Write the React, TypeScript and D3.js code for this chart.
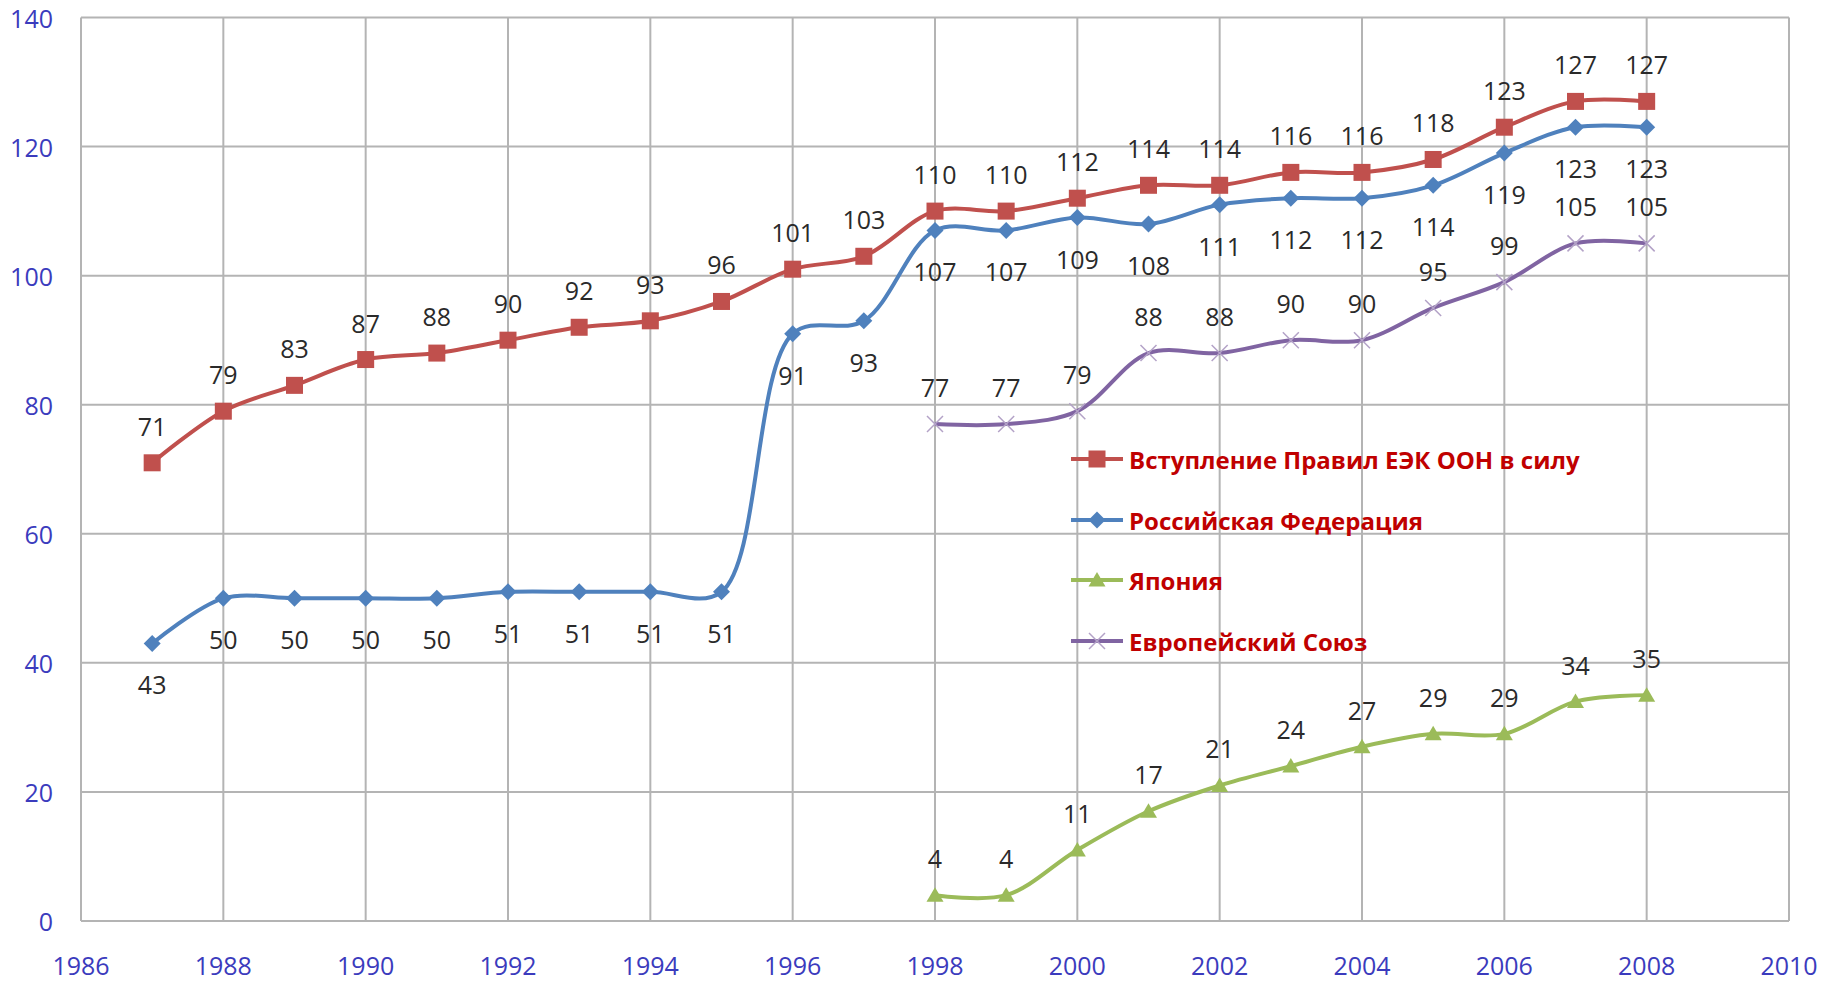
import { useRef, useEffect } from 'react'
import * as d3 from 'd3'

const years = [1987, 1988, 1989, 1990, 1991, 1992, 1993, 1994, 1995, 1996, 1997, 1998, 1999, 2000, 2001, 2002, 2003, 2004, 2005, 2006, 2007, 2008]
const unece = [71, 79, 83, 87, 88, 90, 92, 93, 96, 101, 103, 110, 110, 112, 114, 114, 116, 116, 118, 123, 127, 127]
const russia = [43, 50, 50, 50, 50, 51, 51, 51, 51, 91, 93, 107, 107, 109, 108, 111, 112, 112, 114, 119, 123, 123]
const japanYears = [1998, 1999, 2000, 2001, 2002, 2003, 2004, 2005, 2006, 2007, 2008]
const japan = [4, 4, 11, 17, 21, 24, 27, 29, 29, 34, 35]
const eu = [77, 77, 79, 88, 88, 90, 90, 95, 99, 105, 105]

const xTicks = [1986, 1988, 1990, 1992, 1994, 1996, 1998, 2000, 2002, 2004, 2006, 2008, 2010]
const yTicks = [0, 20, 40, 60, 80, 100, 120, 140]

const legendNames = ['Вступление Правил ЕЭК ООН в силу', 'Российская Федерация', 'Япония', 'Европейский Союз']

type Pt = { x: number; y: number }

export default function App() {
  const svgRef = useRef<SVGSVGElement>(null)

  useEffect(() => {
    document.body.style.margin = '0'
    if (!svgRef.current) return
    const svg = d3.select(svgRef.current)
    svg.selectAll('*').remove()

    const width = 1831
    const height = 983
    const left = 81
    const right = 1789
    const top = 17.5
    const bottom = 921
    const font = "'Open Sans', 'Liberation Sans', sans-serif"

    svg.attr('width', width).attr('height', height)
    svg.append('rect').attr('width', width).attr('height', height).attr('fill', '#fff')

    const x = d3.scaleLinear().domain([1986, 2010]).range([left, right])
    const y = d3.scaleLinear().domain([0, 140]).range([bottom, top])

    // grid
    const grid = svg.append('g')
    grid.selectAll('.gx').data(xTicks).join('line')
      .attr('x1', d => x(d)).attr('x2', d => x(d))
      .attr('y1', top).attr('y2', bottom)
      .attr('stroke', '#b4b4b4').attr('stroke-width', 2)
    grid.selectAll('.gy').data(yTicks).join('line')
      .attr('x1', left).attr('x2', right)
      .attr('y1', d => y(d)).attr('y2', d => y(d))
      .attr('stroke', '#b4b4b4').attr('stroke-width', 2)

    // axis labels
    svg.append('g').selectAll('text').data(yTicks).join('text')
      .attr('x', 53).attr('y', d => y(d))
      .attr('text-anchor', 'end').attr('dominant-baseline', 'central')
      .attr('fill', '#3b3bbd').attr('font-size', 25).attr('font-family', font)
      .text(d => d)
    svg.append('g').selectAll('text').data(xTicks).join('text')
      .attr('x', d => x(d)).attr('y', 975)
      .attr('text-anchor', 'middle')
      .attr('fill', '#3b3bbd').attr('font-size', 25).attr('font-family', font)
      .text(d => d)

    const line = d3.line<Pt>().x(d => d.x).y(d => d.y).curve(d3.curveCatmullRom.alpha(0.5))

    const series = [
      { xs: years, vs: unece, color: '#c0504d', marker: 'square', labelDy: -37 },
      { xs: years, vs: russia, color: '#4f81bd', marker: 'diamond', labelDy: 41 },
      { xs: japanYears, vs: japan, color: '#9bbb59', marker: 'triangle', labelDy: -37 },
      { xs: japanYears, vs: eu, color: '#8064a2', marker: 'x', labelDy: -37 },
    ]

    const drawMarker = (g: d3.Selection<SVGGElement, unknown, null, undefined>, kind: string, cx: number, cy: number, color: string) => {
      if (kind === 'square') {
        g.append('rect').attr('x', cx - 8.5).attr('y', cy - 8.5).attr('width', 17).attr('height', 17).attr('fill', color)
      } else if (kind === 'diamond') {
        g.append('path').attr('d', `M${cx},${cy - 8.5}L${cx + 8.5},${cy}L${cx},${cy + 8.5}L${cx - 8.5},${cy}Z`).attr('fill', color)
      } else if (kind === 'triangle') {
        g.append('path').attr('d', `M${cx},${cy - 8}L${cx + 8.5},${cy + 6.5}L${cx - 8.5},${cy + 6.5}Z`).attr('fill', color)
      } else {
        g.append('path').attr('d', `M${cx - 8},${cy - 8}L${cx + 8},${cy + 8}M${cx - 8},${cy + 8}L${cx + 8},${cy - 8}`)
          .attr('stroke', '#b3a2c7').attr('stroke-width', 1.5).attr('fill', 'none')
      }
    }

    series.forEach(s => {
      const pts: Pt[] = s.xs.map((yr, i) => ({ x: x(yr), y: y(s.vs[i]) }))
      const g = svg.append('g')
      g.append('path').attr('d', line(pts)!).attr('fill', 'none')
        .attr('stroke', s.color).attr('stroke-width', 4).attr('stroke-linejoin', 'round')
      pts.forEach(p => drawMarker(g, s.marker, p.x, p.y, s.color))
      g.selectAll('.lbl').data(pts).join('text')
        .attr('x', d => d.x).attr('y', d => d.y + s.labelDy)
        .attr('text-anchor', 'middle').attr('dominant-baseline', 'central')
        .attr('fill', '#2a2a2a').attr('font-size', 25).attr('font-family', font)
        .text((_, i) => s.vs[i])
    })

    // legend
    const lg = svg.append('g')
    const legY = [459, 520, 580, 641]
    series.forEach((s, i) => {
      const gy = legY[i]
      const g = lg.append('g')
      g.append('line').attr('x1', 1071).attr('x2', 1123).attr('y1', gy).attr('y2', gy)
        .attr('stroke', s.color).attr('stroke-width', 4)
      drawMarker(g, s.marker, 1097, gy, s.color)
      g.append('text').attr('x', 1129).attr('y', gy)
        .attr('dominant-baseline', 'central')
        .attr('fill', '#c00000').attr('font-size', 24).attr('font-weight', 'bold').attr('font-family', font)
        .text(legendNames[i])
    })
  }, [])

  return <svg ref={svgRef} style={{ display: 'block' }} />
}
